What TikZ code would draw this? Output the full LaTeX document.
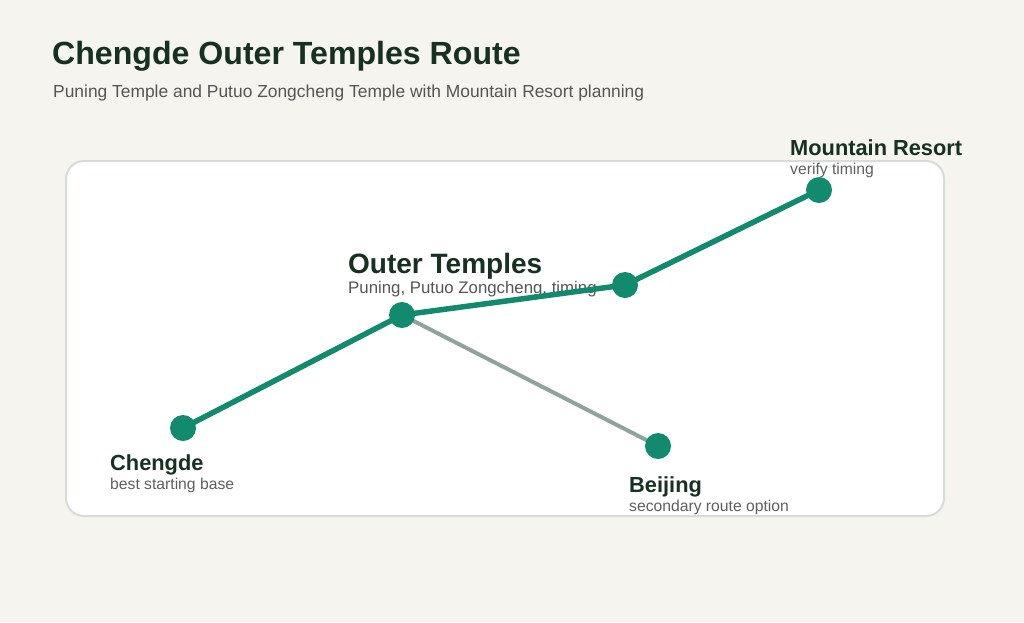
\documentclass[tikz,border=0pt]{standalone}
\usepackage{fontspec}
\setmainfont{Liberation Sans}
\definecolor{bgc}{RGB}{245,244,238}
\definecolor{panelline}{RGB}{216,220,214}
\definecolor{teal}{RGB}{18,138,110}
\definecolor{grayline}{RGB}{143,163,155}
\definecolor{titlec}{RGB}{22,48,34}
\definecolor{subc}{RGB}{85,85,85}
\definecolor{smallc}{RGB}{95,95,95}
\pgfdeclarelayer{bg}
\pgfdeclarelayer{lines}
\pgfsetlayers{bg,lines,main}
\begin{document}
\begin{tikzpicture}[x=1pt,y=-1pt,
  dot/.style={circle,fill=teal,minimum size=26pt,inner sep=0pt},
  route/.style={draw=teal,line width=5.5pt,line cap=round},
  alt/.style={draw=grayline,line width=4pt,line cap=round},
  bigname/.style={anchor=base west,inner sep=0pt,font=\bfseries\fontsize{21.8}{24}\selectfont,text=titlec},
  midname/.style={anchor=base west,inner sep=0pt,font=\bfseries\fontsize{28}{30}\selectfont,text=titlec},
  note/.style={anchor=base west,inner sep=0pt,font=\fontsize{15.7}{18}\selectfont,text=smallc},
  midnote/.style={anchor=base west,inner sep=0pt,font=\fontsize{16.8}{18}\selectfont,text=subc}]
\begin{pgfonlayer}{bg}
\fill[bgc] (0,0) rectangle (1024,622);
\draw[panelline,line width=2pt,fill=white,rounded corners=18pt] (66,161) rectangle (944,516);
\node[anchor=base west,inner sep=0pt,font=\bfseries\fontsize{32.1}{36}\selectfont,text=titlec] (title) at (52,64) {Chengde Outer Temples Route};
\node[anchor=base west,inner sep=0pt,font=\fontsize{17.4}{20}\selectfont,text=subc] (subtitle) at (53,97) {Puning Temple and Putuo Zongcheng Temple with Mountain Resort planning};
\node[midname] (outerlbl) at (348,273) {Outer Temples};
\node[midnote] (outernote) at (348,293) {Puning, Putuo Zongcheng, timing};
\node[bigname] (chlbl) at (110,470) {Chengde};
\node[note] (chnote) at (110,489) {best starting base};
\node[bigname] (bjlbl) at (629,492) {Beijing};
\node[note] (bjnote) at (629,511) {secondary route option};
\node[bigname] (mrlbl) at (790,155) {Mountain Resort};
\node[note] (mrnote) at (790,174) {verify timing};
\end{pgfonlayer}
\node[dot] (chengde) at (183,428) {};
\node[dot] (outer) at (402,315) {};
\node[dot] (mid) at (625,285) {};
\node[dot] (resort) at (819,190) {};
\node[dot] (beijing) at (658,446) {};
\begin{pgfonlayer}{lines}
\draw[alt] (outer.center) -- (beijing.center);
\draw[route] (chengde.center) -- (outer.center) -- (mid.center) -- (resort.center);
\end{pgfonlayer}
\end{tikzpicture}
\end{document}
